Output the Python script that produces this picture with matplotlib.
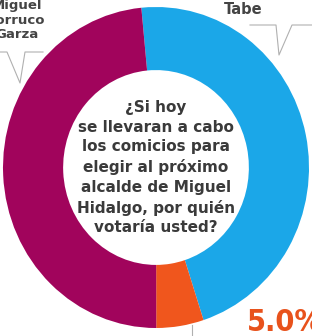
import matplotlib.pyplot as plt

# vote shares (%), clockwise from the top
candidates = ["Tabe", "Otros", "Miguel Torruco Garza"]
shares = [46.5, 5.0, 48.5]
colors = ["#1ba7e8", "#f0561d", "#a1045c"]

question = "¿Si hoy\nse llevaran a cabo\nlos comicios para\nelegir al próximo\nalcalde de Miguel\nHidalgo, por quién\nvotaría usted?"
small_label = "5.0%"

W, H = 312, 336
fig = plt.figure(figsize=(W / 100, H / 100), dpi=100)
ax = fig.add_axes([0, 0, 1, 1])

ax.pie(shares, colors=colors, startangle=95.5, counterclock=False,
       radius=1.0, wedgeprops=dict(width=0.393, linewidth=0))
# ring is slightly taller than wide in the picture
ax.set_aspect("auto")
ax.set_xlim(-156 / 153, 156 / 153)
ax.set_ylim(-168.5 / 160.5, 167.5 / 160.5)
ax.axis("off")


def px(x, y):
    return x / W, 1 - y / H


ax.text(0, 0.0, question, ha="center", va="center", fontsize=11,
        fontweight="bold", color="#3a3a3a", linespacing=1.38)

# labels and pointer lines
fig.text(*px(243, 10), "Tabe", ha="center", va="center", fontsize=10.5,
         fontweight="bold", color="#444444")
fig.text(*px(17, 20), "Miguel\nTorruco\nGarza", ha="center", va="center",
         fontsize=9.5, fontweight="bold", color="#444444", linespacing=1.15)

line_kw = dict(color="#b0b0b0", lw=0.8, transform=fig.transFigure)
for pts in ([(250, 25), (276, 25), (279, 55), (292, 25), (312, 25)],
            [(0, 52), (7, 52), (20, 83), (25, 52), (43, 52)],
            [(192, 325), (192, 336)]):
    xs, ys = zip(*[px(a, b) for a, b in pts])
    fig.add_artist(plt.Line2D(xs, ys, **line_kw))

fig.text(*px(247, 308), small_label, ha="left", va="top", fontsize=22,
         fontweight="bold", fontstretch="condensed", color="#e8521c",
         family=["DejaVu Sans"])

fig.savefig("out.png", dpi=100)
